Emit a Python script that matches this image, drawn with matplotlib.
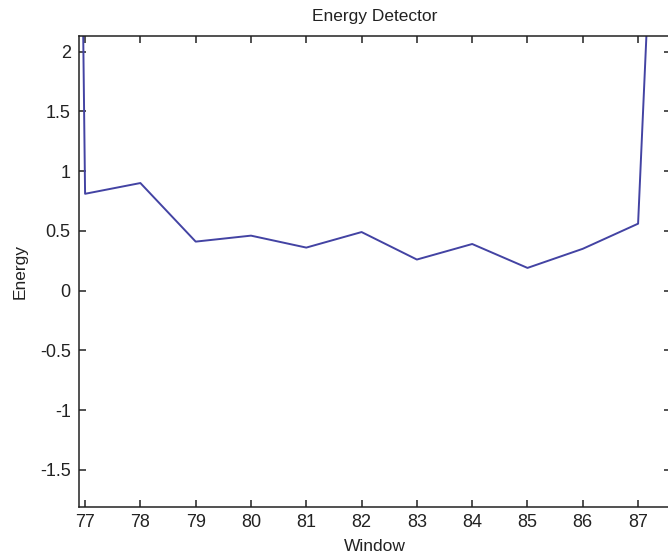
import matplotlib

matplotlib.use("Agg")
import matplotlib.pyplot as plt

# energy per window (first and last points run far off the top of the view)
windows = [76, 77, 78, 79, 80, 81, 82, 83, 84, 85, 86, 87, 88]
energy = [40.0, 0.81, 0.90, 0.41, 0.46, 0.36, 0.49, 0.26, 0.39, 0.19, 0.35, 0.56, 11.0]

x_ticks = [77, 78, 79, 80, 81, 82, 83, 84, 85, 86, 87]
y_ticks = [-1.5, -1, -0.5, 0, 0.5, 1, 1.5, 2]
y_tick_labels = ["-1.5", "-1", "-0.5", "0", "0.5", "1", "1.5", "2"]

plt.rcParams.update({"font.family": ["Liberation Sans", "DejaVu Sans"], "font.size": 12})

fig = plt.figure(figsize=(6.68, 5.55), dpi=100, facecolor="white")
W, H = 668, 555
left_px, right_px, top_px, bottom_px = 79, 671, 36, 507
ax = fig.add_axes([left_px / W, (H - bottom_px) / H,
                   (right_px - left_px) / W, (bottom_px - top_px) / H])

ax.plot(windows, energy, color="#4343a3", linewidth=1.4)

# 55.3 px per window unit, 77 sits 6 px right of the left spine
ax.set_xlim(76.89, 76.89 + (right_px - left_px) / 55.3)
ax.set_ylim(-1.81, 2.13)
ax.set_xticks(x_ticks)
ax.set_xticklabels([str(v) for v in x_ticks])
ax.set_yticks(y_ticks)
ax.set_yticklabels(y_tick_labels)

ax.tick_params(direction="in", length=5, width=1.1, colors="#222222",
               top=True, right=True, labelsize=13)
ax.tick_params(axis="x", pad=5)
ax.tick_params(axis="y", pad=6)
for side in ("left", "top", "bottom", "right"):
    ax.spines[side].set_color("#222222")
    ax.spines[side].set_linewidth(1.1)

ax.set_title("Energy Detector", fontsize=12.5, color="#222222", pad=11)
ax.set_xlabel("Window", fontsize=12.5, color="#222222", labelpad=6)
ax.set_ylabel("Energy", fontsize=12.5, color="#222222", labelpad=9)

fig.savefig("out.png", dpi=100, facecolor="white")
